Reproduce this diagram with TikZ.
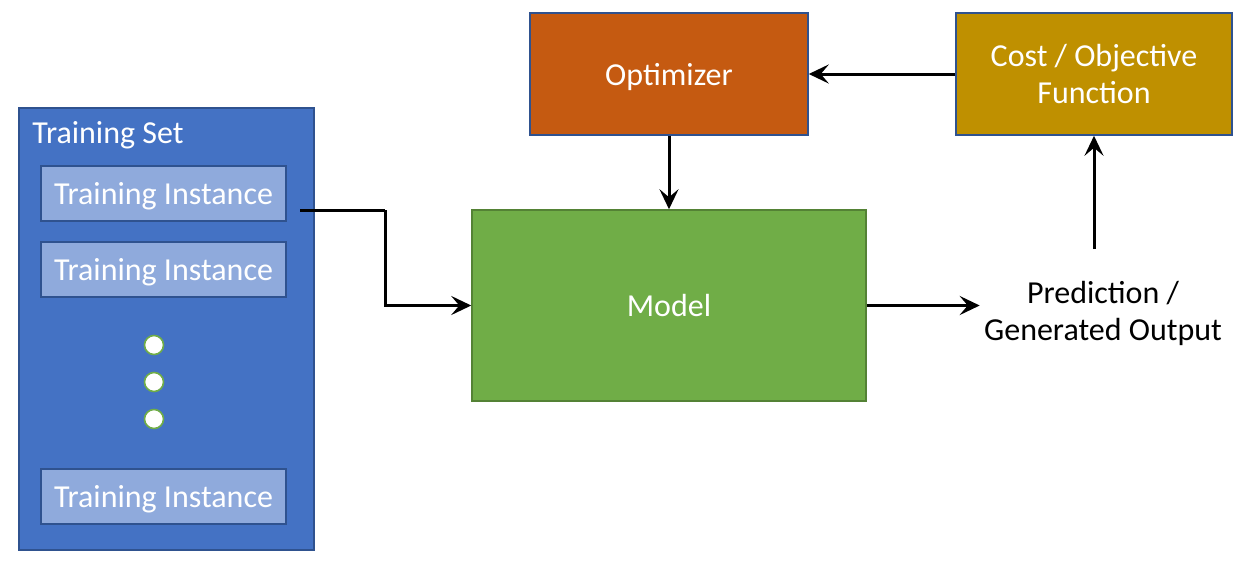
\documentclass[tikz,border=0pt]{standalone}
\usepackage{fontspec}
\setmainfont{Carlito}
\usetikzlibrary{arrows.meta,calc}
\definecolor{setblue}{HTML}{4472C4}
\definecolor{instblue}{HTML}{8FAADC}
\definecolor{edgeblue}{HTML}{2F528F}
\definecolor{optorange}{HTML}{C55A11}
\definecolor{costgold}{HTML}{BF9000}
\definecolor{modelgreen}{HTML}{70AD47}
\definecolor{modeledge}{HTML}{548235}
\tikzset{
  txt/.style={font=\fontsize{16}{18.5}\selectfont},
  box/.style={draw=edgeblue, line width=0.75pt, text=white, align=center, inner sep=0pt, txt, text depth=0pt},
  instbox/.style={box, fill=instblue, minimum width=122.5pt, minimum height=27.5pt},
  dotc/.style={circle, draw=modelgreen, fill=white, line width=0.8pt, minimum size=9.5pt, inner sep=0pt},
  arr/.style={line width=1.5pt, -{Stealth[length=10pt,width=9.5pt,inset=4pt]}},
  plain/.style={line width=1.5pt}
}
\begin{document}
\begin{tikzpicture}[x=0.5pt,y=-0.5pt]
\useasboundingbox (0,0) rectangle (1251,568);
% training set
\node[box, fill=setblue, minimum width=147.5pt, minimum height=221pt] (set) at (166.5,329) {};
\node[anchor=base west, text=white, inner sep=0pt, txt] (setlabel) at (32,143) {Training Set};
\node[instbox] (i1) at (163.5,193.5) {Training Instance};
\node[instbox] (i2) at (163.5,269.5) {Training Instance};
\node[instbox] (i3) at (163.5,496.5) {Training Instance};
\node[dotc] (d1) at (154,345) {};
\node[dotc] (d2) at (154,382) {};
\node[dotc] (d3) at (154,419) {};
% other boxes
\node[box, fill=optorange, minimum width=139pt, minimum height=61pt] (opt) at (669,74) {Optimizer};
\node[box, fill=costgold, minimum width=138pt, minimum height=61pt] (cost) at (1094,74) {Cost / Objective\\Function};
\node[box, draw=modeledge, fill=modelgreen, minimum width=197pt, minimum height=95.5pt] (model) at (669,305.5) {Model};
\node[align=center, inner sep=2pt, txt, text depth=0pt] (pred) at (1103,311) {Prediction /\\Generated Output};
% connectors
\coordinate (ti) at (300,210);
\coordinate (bend) at (385,210);
\coordinate (pu) at (1094,249);
\draw[plain] (ti) -- (bend);
\draw[arr] (bend) |- (model.west);
\draw[arr] (opt.south) -- (model.north);
\draw[arr] (model.east) -- (model.east -| pred.west);
\draw[arr] (pu) -- (cost.south);
\draw[arr] (cost.west) -- (opt.east);
\end{tikzpicture}
\end{document}
